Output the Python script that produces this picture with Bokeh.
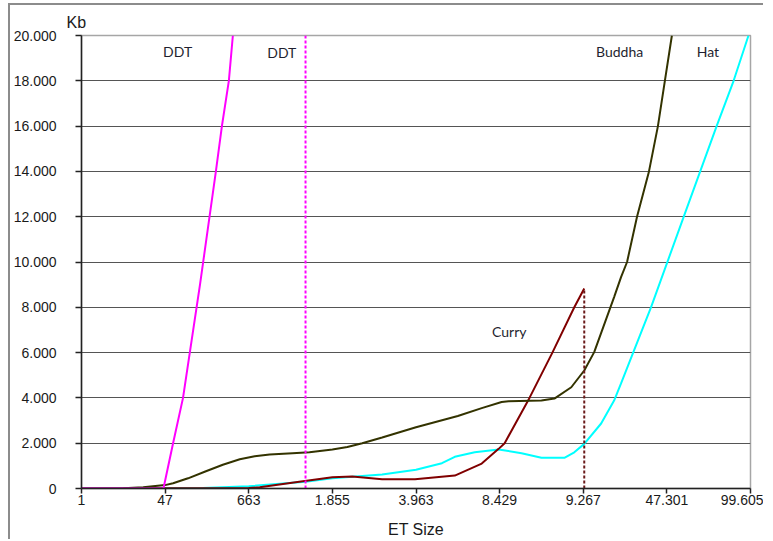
from bokeh.plotting import figure
from bokeh.models import FixedTicker, Label, Range1d, Title
from bokeh.embed import file_html
from bokeh.resources import INLINE

# ---- data (x = position on the category axis, 0..8) ----
x_labels = ["1", "47", "663", "1.855", "3.963", "8.429", "9.267", "47.301", "99.605"]
y_ticks = [0, 2000, 4000, 6000, 8000, 10000, 12000, 14000, 16000, 18000, 20000]
y_tick_labels = ["0", "2.000", "4.000", "6.000", "8.000", "10.000", "12.000",
                 "14.000", "16.000", "18.000", "20.000"]

ddt_x = [0.0, 0.5, 0.98, 1.095, 1.214, 1.417, 1.607, 1.679, 1.762, 1.810]
ddt_y = [0, 0, 0, 2000, 4000, 9000, 14000, 16000, 18000, 20000]

buddha_x = [0.0, 0.5, 0.738, 1.0, 1.095, 1.274, 1.488, 1.690, 1.893, 2.071, 2.250,
            2.524, 2.726, 3.0, 3.179, 3.357, 3.595, 4.0, 4.5, 4.786, 5.024, 5.107,
            5.5, 5.655, 5.857, 6.012, 6.131, 6.369, 6.452, 6.524, 6.643, 6.786,
            6.893, 6.976, 7.060]
buddha_y = [0, 10, 50, 150, 234, 450, 760, 1050, 1290, 1420, 1500,
            1560, 1600, 1720, 1830, 2000, 2250, 2706, 3200, 3550, 3820, 3855,
            3885, 3970, 4470, 5210, 6020, 8450, 9330, 10000, 12000, 14000,
            16000, 18000, 20000]

hat_x = [0.0, 1.452, 2.0, 2.679, 3.0, 3.595, 4.0, 4.310, 4.464, 4.702, 4.988,
         5.262, 5.500, 5.774, 5.893, 6.012, 6.214, 6.369, 6.452, 6.810, 7.202,
         7.595, 7.798, 7.976]
hat_y = [0, 20, 100, 300, 450, 618, 825, 1117, 1400, 1600, 1720,
         1560, 1355, 1355, 1600, 1970, 2870, 3885, 4640, 8000, 12000,
         16000, 18000, 20000]

curry_x = [0.0, 2.0, 2.131, 2.560, 3.0, 3.238, 3.595, 3.988, 4.464, 4.786,
           4.988, 5.060, 5.357, 5.631, 5.893, 6.012]
curry_y = [0, 20, 57, 280, 500, 530, 410, 410, 570, 1100,
           1750, 2000, 4000, 6000, 8000, 8830]

ddt_marker_x = [2.679, 2.679]
ddt_marker_y = [0, 20000]
curry_marker_x = [6.012, 6.012]
curry_marker_y = [0, 8830]

series_names = ["DDT", "DDT", "Buddha", "Hat", "Curry"]

# ---- figure ----
p = figure(width=755, height=536, output_backend="svg", toolbar_location=None,
           x_range=Range1d(0, 8), y_range=Range1d(0, 20000),
           min_border_left=68, min_border_right=15, min_border_top=30,
           min_border_bottom=53,
           styles={"margin-top": "3px", "margin-left": "8px",
                   "border-top": "2px solid #8c8c8c",
                   "border-left": "2px solid #8c8c8c"})
p.background_fill_color = "white"
p.border_fill_color = "white"
p.outline_line_color = "#a6a6a6"
p.outline_line_width = 1.5

FONT = "Liberation Sans"

p.xaxis.ticker = FixedTicker(ticks=list(range(len(x_labels))))
p.xaxis.major_label_overrides = {i: t for i, t in enumerate(x_labels)}
p.xaxis.axis_label = "ET Size"
p.yaxis.ticker = FixedTicker(ticks=y_ticks)
p.yaxis.major_label_overrides = {v: t for v, t in zip(y_ticks, y_tick_labels)}

for ax in (p.xaxis, p.yaxis):
    ax.axis_line_color = "#222222"
    ax.axis_line_width = 1.5
    ax.major_tick_line_color = "#222222"
    ax.major_tick_line_width = 1.5
    ax.major_tick_in = 0
    ax.minor_tick_line_color = None
    ax.major_label_text_font = FONT
    ax.major_label_text_font_size = "14px"
    ax.major_label_text_color = "#1a1a1a"
p.xaxis.major_tick_out = 5
p.xaxis.major_label_standoff = 1
p.yaxis.major_tick_out = 6
p.yaxis.major_label_standoff = 19
p.xaxis.axis_label_text_font = FONT
p.xaxis.axis_label_text_font_size = "16px"
p.xaxis.axis_label_text_font_style = "normal"
p.xaxis.axis_label_text_color = "#1a1a1a"
p.xaxis.axis_label_standoff = 13

p.xgrid.grid_line_color = None
p.ygrid.ticker = FixedTicker(ticks=y_ticks[1:-1])
p.ygrid.grid_line_color = "#555555"
p.ygrid.grid_line_width = 1.2

# ---- lines ----
p.line(hat_x, hat_y, line_color="#00FFFF", line_width=2)
p.line(curry_x, curry_y, line_color="#800000", line_width=2)
p.line(buddha_x, buddha_y, line_color="#333300", line_width=2)
p.line(ddt_x, ddt_y, line_color="#FF00FF", line_width=2)
p.line(ddt_marker_x, ddt_marker_y, line_color="#FF00FF", line_width=2,
       line_dash="3 2")
p.line(curry_marker_x, curry_marker_y, line_color="#6b1a1a", line_width=2,
       line_dash="3 2")

# ---- annotations ----
label_pos = [(1.150, 19300), (2.395, 19260), (6.435, 19300), (7.490, 19300),
             (5.115, 6945)]
for name, (lx, ly) in zip(series_names, label_pos):
    p.add_layout(Label(x=lx, y=ly, text=name, text_align="center",
                       text_baseline="alphabetic", text_font="Lato",
                       text_font_size="14px", text_color="#1f1f2f"))

p.add_layout(Title(text="Kb", align="left", offset=-15, standoff=10,
                   text_font=FONT, text_font_size="16px",
                   text_font_style="normal", text_color="#1a1a1a"), "above")

open("out.html", "w").write(file_html(p, INLINE))
